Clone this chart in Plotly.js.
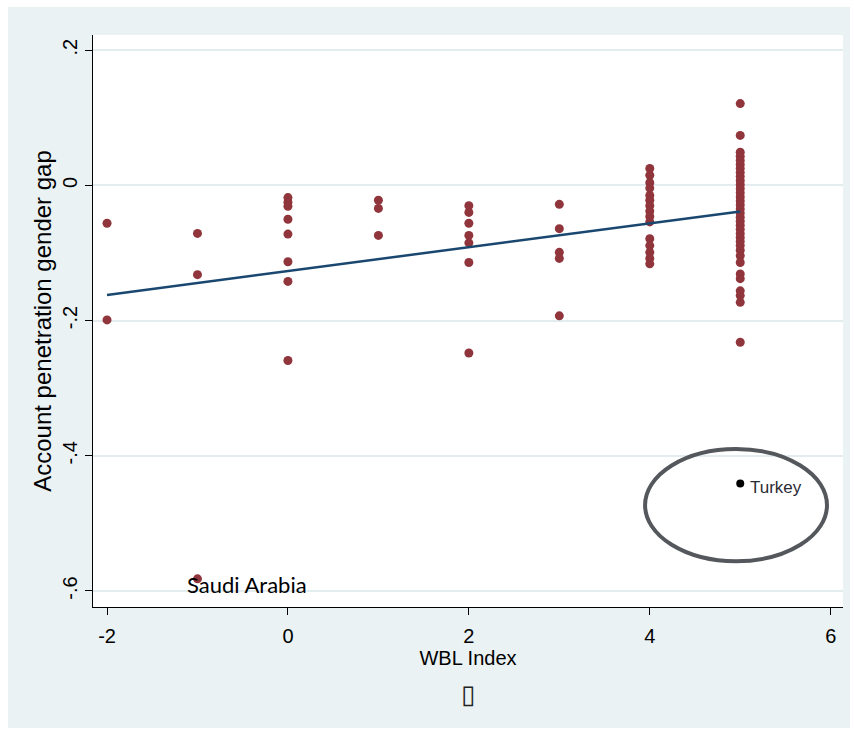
<!DOCTYPE html>
<html>
<head>
<meta charset="utf-8">
<script src="https://cdn.plot.ly/plotly-3.0.1.min.js"></script>
<style>
  html, body { margin: 0; padding: 0; background: #ffffff; width: 854px; height: 734px; overflow: hidden; }
  #chart { position: absolute; left: 8px; top: 7px; width: 842px; height: 721px; }
</style>
</head>
<body>
<div id="chart"></div>
<script>
// Women, Business and the Law index vs. account penetration gender gap (one point per economy)
const wblIndex = [
  -2, -2,
  -1, -1,
  0, 0, 0, 0, 0, 0, 0, 0,
  1, 1, 1,
  2, 2, 2, 2, 2, 2, 2,
  3, 3, 3, 3, 3,
  4, 4, 4, 4, 4, 4, 4, 4, 4, 4, 4, 4, 4, 4, 4,
  5, 5, 5, 5, 5, 5, 5, 5, 5, 5, 5, 5, 5, 5, 5, 5, 5, 5, 5, 5, 5, 5, 5, 5, 5, 5, 5, 5, 5, 5, 5, 5, 5, 5, 5
];
const genderGap = [
  -0.056, -0.199,
  -0.071, -0.132,
  -0.018, -0.025, -0.031, -0.050, -0.072, -0.113, -0.142, -0.259,
  -0.022, -0.034, -0.074,
  -0.030, -0.040, -0.056, -0.074, -0.085, -0.114, -0.248,
  -0.028, -0.064, -0.099, -0.108, -0.193,
  0.025, 0.015, 0.004, -0.004, -0.015, -0.022, -0.030, -0.038, -0.046, -0.054, -0.079, -0.089, -0.099, -0.108, -0.116,
  0.121, 0.074, 0.049, 0.043, 0.037, 0.031, 0.025, 0.019, 0.013, 0.007, 0.001, -0.005, -0.011, -0.017, -0.023,
  -0.029, -0.035, -0.041, -0.047, -0.053, -0.059, -0.065, -0.071, -0.077, -0.083, -0.089, -0.096, -0.104,
  -0.114, -0.131, -0.138, -0.156, -0.163, -0.173, -0.232
];

// Highlighted economies
const saudiName = 'Saudi Arabia';
const saudiWbl = -1;
const saudiGap = -0.582;
const turkeyName = 'Turkey';
const turkeyWbl = 5;
const turkeyGap = -0.441;

// Linear fit, evaluated at the ends of the WBL range
const fitWbl = [-2, 5];
const fitGap = [-0.162, -0.0385];

// Axis ticks
const xTickVals = [-2, 0, 2, 4, 6];
const xTickText = ['-2', '0', '2', '4', '6'];
const yTickVals = [0.2, 0, -0.2, -0.4, -0.6];
const yTickText = ['.2', '0', '-.2', '-.4', '-.6'];

const maroon = '#90353b';
const navy = '#1a476f';
const panel = '#eaf2f3';
const sans = 'Liberation Sans, Arial, sans-serif';

const traces = [
  {
    x: wblIndex, y: genderGap, type: 'scatter', mode: 'markers',
    marker: { color: maroon, size: 9 }, showlegend: false
  },
  {
    x: [saudiWbl], y: [saudiGap], type: 'scatter', mode: 'markers',
    marker: { color: maroon, size: 9 }, showlegend: false
  },
  {
    x: [turkeyWbl], y: [turkeyGap], type: 'scatter', mode: 'markers',
    marker: { color: '#000000', size: 8 }, showlegend: false
  },
  {
    x: fitWbl, y: fitGap, type: 'scatter', mode: 'lines',
    line: { color: navy, width: 2.5 }, showlegend: false
  }
];

const layout = {
  width: 842, height: 721,
  paper_bgcolor: panel,
  plot_bgcolor: '#ffffff',
  margin: { l: 85, r: 7, t: 28, b: 121 },
  xaxis: {
    range: [-2.155, 6.136],
    tickvals: xTickVals, ticktext: xTickText,
    ticks: 'outside', ticklen: 7, tickwidth: 1, tickcolor: '#000000',
    ticklabelstandoff: 4,
    showline: true, linecolor: '#000000', linewidth: 1,
    showgrid: false, zeroline: false,
    tickfont: { family: sans, size: 20, color: '#000000' },
    title: { text: 'WBL Index', font: { family: sans, size: 20, color: '#000000' }, standoff: 4 }
  },
  yaxis: {
    range: [-0.6237, 0.2225],
    tickvals: yTickVals, ticktext: yTickText, tickangle: -90,
    ticks: 'outside', ticklen: 7, tickwidth: 1, tickcolor: '#000000',
    showline: true, linecolor: '#000000', linewidth: 1,
    showgrid: true, gridcolor: '#e3edf0', gridwidth: 2, zeroline: false,
    tickfont: { family: sans, size: 20, color: '#000000' },
    title: { text: 'Account penetration gender gap', font: { family: sans, size: 24, color: '#000000' }, standoff: 0 }
  },
  shapes: [
    {
      type: 'circle', xref: 'x', yref: 'y',
      x0: 3.948, x1: 5.959, y0: -0.556, y1: -0.390,
      line: { color: '#54585c', width: 4 }
    }
  ],
  annotations: [
    {
      x: saudiWbl, y: saudiGap, xref: 'x', yref: 'y', text: saudiName,
      showarrow: false, xanchor: 'left', yanchor: 'middle', xshift: -12, yshift: -6,
      font: { family: 'Lato, Open Sans, sans-serif', size: 22, color: '#000000' }
    },
    {
      x: turkeyWbl, y: turkeyGap, xref: 'x', yref: 'y', text: turkeyName,
      showarrow: false, xanchor: 'left', yanchor: 'middle', xshift: 8, yshift: -4,
      font: { family: sans, size: 17, color: '#2b2b33' }
    },
    {
      x: 0.5, y: -0.152, xref: 'paper', yref: 'paper', text: '\u25AF',
      showarrow: false, xanchor: 'center', yanchor: 'middle', xshift: 0,
      font: { family: 'DejaVu Sans, sans-serif', size: 26, color: '#222222' }
    }
  ]
};

Plotly.newPlot('chart', traces, layout, { staticPlot: true, displayModeBar: false });
</script>
</body>
</html>
